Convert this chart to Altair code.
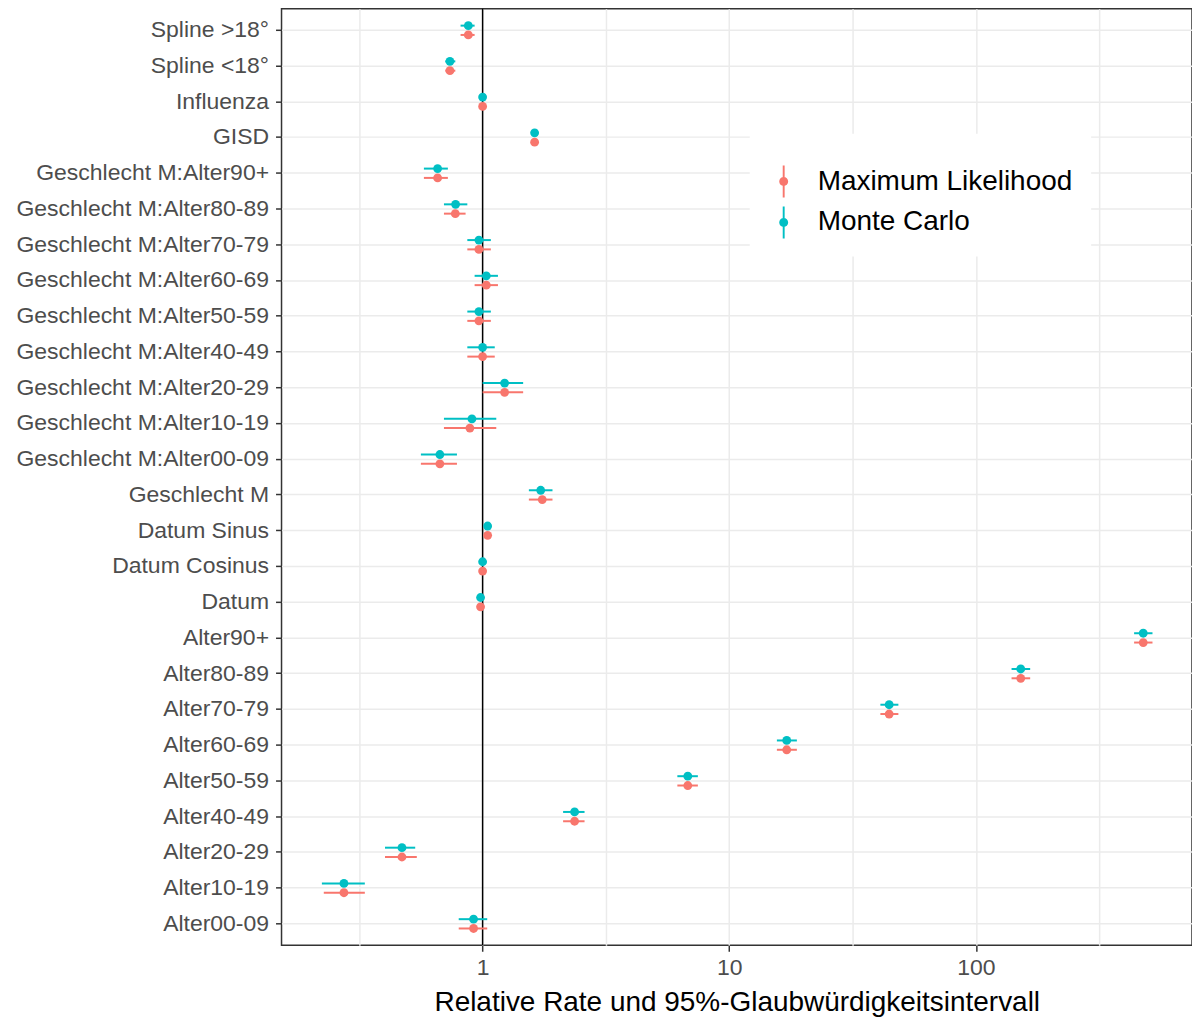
import altair as alt
import pandas as pd

terms = [
    "Spline >18°", "Spline <18°", "Influenza", "GISD",
    "Geschlecht M:Alter90+", "Geschlecht M:Alter80-89", "Geschlecht M:Alter70-79",
    "Geschlecht M:Alter60-69", "Geschlecht M:Alter50-59", "Geschlecht M:Alter40-49",
    "Geschlecht M:Alter20-29", "Geschlecht M:Alter10-19", "Geschlecht M:Alter00-09",
    "Geschlecht M", "Datum Sinus", "Datum Cosinus", "Datum",
    "Alter90+", "Alter80-89", "Alter70-79", "Alter60-69", "Alter50-59",
    "Alter40-49", "Alter20-29", "Alter10-19", "Alter00-09",
]

ml_est = [0.875, 0.737, 1.0, 1.625, 0.657, 0.775, 0.966, 1.035, 0.966, 1.0, 1.228, 0.888, 0.671,
          1.745, 1.048, 1.0, 0.981, 477, 152, 44.5, 17.1, 6.79, 2.36, 0.471, 0.274, 0.919]
ml_lo = [0.814, 0.706, 0.99, 1.57, 0.578, 0.697, 0.867, 0.928, 0.867, 0.867, 1.0, 0.697, 0.562,
         1.54, 1.035, 0.993, 0.97, 438, 139.5, 41.0, 15.6, 6.16, 2.12, 0.402, 0.227, 0.80]
ml_hi = [0.928, 0.775, 1.01, 1.68, 0.723, 0.853, 1.08, 1.154, 1.08, 1.12, 1.46, 1.136, 0.787,
         1.92, 1.06, 1.007, 0.99, 520, 166, 48.5, 18.8, 7.46, 2.59, 0.541, 0.333, 1.044]

mc_est = [0.875, 0.737, 1.0, 1.625, 0.657, 0.777, 0.966, 1.035, 0.966, 1.0, 1.228, 0.905, 0.671,
          1.72, 1.048, 1.0, 0.981, 477, 152, 44.5, 17.1, 6.79, 2.36, 0.471, 0.274, 0.919]
mc_lo = [0.814, 0.706, 0.99, 1.57, 0.578, 0.697, 0.867, 0.928, 0.867, 0.867, 1.0, 0.697, 0.562,
         1.54, 1.035, 0.993, 0.97, 438, 139.5, 41.0, 15.6, 6.16, 2.12, 0.402, 0.223, 0.80]
mc_hi = [0.928, 0.775, 1.01, 1.68, 0.723, 0.867, 1.08, 1.154, 1.08, 1.12, 1.46, 1.136, 0.787,
         1.92, 1.06, 1.007, 0.99, 520, 166, 48.5, 18.8, 7.46, 2.59, 0.533, 0.333, 1.044]

methods = ["Maximum Likelihood", "Monte Carlo"]
colors = ["#F8766D", "#00BFC4"]
grid_values = [0.31623, 1, 3.1623, 10, 31.623, 100, 316.23]
ref_line = [1]

rows = []
for i, t in enumerate(terms):
    rows.append({"term": t, "method": methods[0], "est": ml_est[i], "lo": ml_lo[i], "hi": ml_hi[i]})
    rows.append({"term": t, "method": methods[1], "est": mc_est[i], "lo": mc_lo[i], "hi": mc_hi[i]})
df = pd.DataFrame(rows)

FONT = "Liberation Sans"
major_test = "datum.value == 1 || datum.value == 10 || datum.value == 100"

xscale = alt.Scale(type="log", domain=[0.153, 752], nice=False)
xaxis = alt.Axis(
    values=grid_values,
    labelExpr="datum.value == 1 ? '1' : datum.value == 10 ? '10' : datum.value == 100 ? '100' : ''",
    title="Relative Rate und 95%-Glaubwürdigkeitsintervall",
    titleFontSize=28, titleFontWeight="normal", titleColor="black", titlePadding=9,
    labelFontSize=23, labelColor="#4D4D4D", labelPadding=5,
    tickSize=6, tickWidth=1.5, tickColor="#333333",
    tickOpacity={"condition": {"test": major_test, "value": 1}, "value": 0},
    grid=True, gridColor="#EBEBEB", gridWidth=1.5,
    domain=False,
)
yscale = alt.Scale(domain=terms, paddingInner=0, paddingOuter=0.1)
yaxis = alt.Axis(
    title=None, labelFontSize=23, labelColor="#4D4D4D", labelPadding=7,
    tickSize=6, tickWidth=1.5, tickColor="#333333",
    grid=True, gridColor="#EBEBEB", gridWidth=1.5, domain=False, bandPosition=0.5,
    labelLimit=400,
)
yoff = alt.YOffset(
    "method:N",
    scale=alt.Scale(domain=["Monte Carlo", "Maximum Likelihood"], paddingInner=0, paddingOuter=0.92),
)

symbol_path = (
    "M-0.06,-1L0.06,-1L0.06,1L-0.06,1Z "
    "M0.28,0A0.28,0.28 0 1,1 -0.28,0A0.28,0.28 0 1,1 0.28,0Z"
)
legend = alt.Legend(
    orient="none", legendX=469, legendY=125,
    title=" ", titleFontSize=10, titlePadding=4,
    padding=18, fillColor="white",
    symbolType=symbol_path, symbolSize=1024, symbolStrokeWidth=0, symbolOpacity=1,
    labelFontSize=28, labelColor="black", labelOffset=18, rowPadding=9, labelLimit=400,
)
color = alt.Color("method:N", scale=alt.Scale(domain=methods, range=colors), legend=legend)

base = alt.Chart(df)

vline = alt.Chart(pd.DataFrame({"v": ref_line})).mark_rule(color="black", strokeWidth=1.5).encode(
    x=alt.X("v:Q", scale=xscale, axis=xaxis)
)

bars = base.mark_rule(strokeWidth=2, opacity=1).encode(
    y=alt.Y("term:N", scale=yscale, axis=yaxis, sort=terms),
    yOffset=yoff,
    x=alt.X("lo:Q", scale=xscale, axis=xaxis),
    x2="hi:Q",
    color=color,
)

points = base.mark_point(filled=True, size=78, opacity=1).encode(
    y=alt.Y("term:N", scale=yscale, axis=yaxis, sort=terms),
    yOffset=yoff,
    x=alt.X("est:Q", scale=xscale, axis=xaxis),
    color=color,
)

chart = alt.layer(vline, bars, points).properties(
    width=912, height=938,
    autosize=alt.AutoSizeParams(type="none"),
    padding={"left": 282, "top": 8, "right": 0, "bottom": 74},
    background="white",
).configure(
    font=FONT
).configure_view(
    stroke="#333333", strokeWidth=1.5
)

chart.save("out.html", embed_options={"renderer": "svg", "actions": False})
